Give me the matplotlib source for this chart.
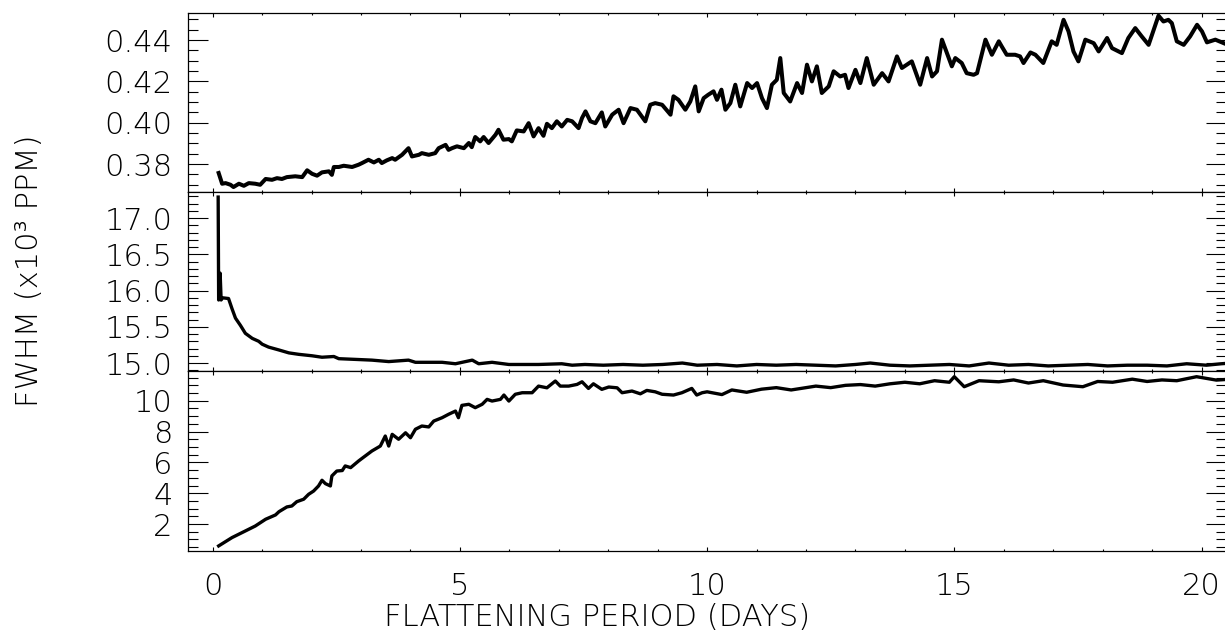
import numpy as np
import matplotlib
matplotlib.use("Agg")
import matplotlib.pyplot as plt
from matplotlib.ticker import MultipleLocator, FormatStrFormatter

# Datos (periodo de aplanado en dias)
top_x = [0.12, 0.19, 0.26, 0.36, 0.42, 0.53, 0.63, 0.73, 0.86, 0.96, 1.07, 1.20, 1.30, 1.40,
         1.50, 1.67, 1.81, 1.91, 2.01, 2.11, 2.21, 2.35, 2.41, 2.45, 2.55, 2.65, 2.82, 2.95,
         3.02, 3.15, 3.26, 3.36, 3.42, 3.52, 3.63, 3.69, 3.83, 3.96, 4.03, 4.17, 4.23, 4.37,
         4.50, 4.57, 4.71, 4.77, 4.84, 4.94, 5.08, 5.18, 5.24, 5.31, 5.41, 5.48, 5.58, 5.72,
         5.78, 5.88, 5.99, 6.05, 6.15, 6.29, 6.39, 6.49, 6.59, 6.69, 6.76, 6.86, 6.96, 7.06,
         7.17, 7.27, 7.40, 7.47, 7.54, 7.64, 7.74, 7.87, 7.94, 8.08, 8.21, 8.31, 8.45, 8.58,
         8.75, 8.85, 8.95, 9.09, 9.26, 9.32, 9.42, 9.56, 9.66, 9.76, 9.83, 9.93, 10.02, 10.13,
         10.20, 10.29, 10.37, 10.47, 10.57, 10.67, 10.81, 10.91, 11.01, 11.11, 11.21, 11.31,
         11.41, 11.48, 11.55, 11.68, 11.82, 11.92, 12.02, 12.12, 12.22, 12.32, 12.46, 12.56,
         12.69, 12.79, 12.86, 13.00, 13.10, 13.23, 13.37, 13.54, 13.67, 13.84, 13.94, 14.04,
         14.14, 14.31, 14.45, 14.55, 14.65, 14.75, 14.85, 14.95, 15.02, 15.15, 15.25, 15.39,
         15.46, 15.63, 15.76, 15.90, 15.96, 16.06, 16.23, 16.33, 16.40, 16.54, 16.64, 16.80,
         16.97, 17.07, 17.21, 17.31, 17.41, 17.51, 17.65, 17.82, 17.92, 18.09, 18.19, 18.39,
         18.52, 18.66, 18.79, 18.93, 19.13, 19.23, 19.33, 19.40, 19.50, 19.64, 19.77, 19.91,
         20.01, 20.11, 20.28, 20.48, 20.60]
top_y = [0.3757, 0.3705, 0.3708, 0.3700, 0.3689, 0.3705, 0.3695, 0.3708, 0.3705, 0.3700,
         0.3728, 0.3724, 0.3732, 0.3728, 0.3737, 0.3741, 0.3737, 0.3770, 0.3753, 0.3744,
         0.3760, 0.3765, 0.3748, 0.3786, 0.3786, 0.3792, 0.3786, 0.3797, 0.3805, 0.3821,
         0.3808, 0.3821, 0.3805, 0.3818, 0.3829, 0.3821, 0.3845, 0.3877, 0.3837, 0.3845,
         0.3853, 0.3845, 0.3853, 0.3877, 0.3893, 0.3869, 0.3877, 0.3886, 0.3877, 0.3902,
         0.3882, 0.3931, 0.3910, 0.3931, 0.3902, 0.3942, 0.3966, 0.3918, 0.3921, 0.3910,
         0.3963, 0.3958, 0.3998, 0.3934, 0.3974, 0.3937, 0.3995, 0.3974, 0.4007, 0.3982,
         0.4014, 0.4007, 0.3974, 0.4023, 0.4055, 0.4007, 0.3998, 0.4050, 0.3982, 0.4039,
         0.4063, 0.3998, 0.4071, 0.4063, 0.4007, 0.4087, 0.4095, 0.4087, 0.4039, 0.4128,
         0.4111, 0.4063, 0.4103, 0.4176, 0.4055, 0.4119, 0.4135, 0.4152, 0.4111, 0.4160,
         0.4063, 0.4095, 0.4184, 0.4079, 0.4192, 0.4168, 0.4192, 0.4119, 0.4071, 0.4184,
         0.4208, 0.4313, 0.4144, 0.4103, 0.4192, 0.4144, 0.4281, 0.4200, 0.4273, 0.4144,
         0.4176, 0.4249, 0.4224, 0.4232, 0.4168, 0.4256, 0.4192, 0.4313, 0.4184, 0.4240,
         0.4200, 0.4321, 0.4265, 0.4281, 0.4297, 0.4184, 0.4313, 0.4224, 0.4249, 0.4402,
         0.4337, 0.4273, 0.4313, 0.4289, 0.4240, 0.4232, 0.4240, 0.4402, 0.4329, 0.4394,
         0.4369, 0.4329, 0.4329, 0.4321, 0.4289, 0.4340, 0.4329, 0.4289, 0.4394, 0.4377,
         0.4498, 0.4442, 0.4345, 0.4297, 0.4402, 0.4385, 0.4345, 0.4410, 0.4361, 0.4337,
         0.4410, 0.4458, 0.4418, 0.4377, 0.4518, 0.4490, 0.4498, 0.4482, 0.4394, 0.4377,
         0.4418, 0.4474, 0.4442, 0.4389, 0.4402, 0.4382, 0.4380]

mid_x = [0.11, 0.12, 0.15, 0.17, 0.20, 0.32, 0.39, 0.46, 0.56, 0.66, 0.80, 0.93, 1.00, 1.13,
         1.34, 1.54, 1.74, 2.01, 2.21, 2.45, 2.55, 2.89, 3.22, 3.56, 3.96, 4.10, 4.23, 4.64,
         4.91, 5.25, 5.38, 5.65, 5.99, 6.59, 7.06, 7.27, 7.53, 7.90, 8.30, 8.70, 9.10, 9.50,
         9.80, 10.20, 10.60, 11.00, 11.40, 11.80, 12.20, 12.60, 13.00, 13.30, 13.70, 14.10,
         14.50, 14.90, 15.30, 15.70, 16.10, 16.50, 16.90, 17.30, 17.70, 18.10, 18.50, 18.90,
         19.30, 19.70, 20.10, 20.40, 20.60]
mid_y = [17.29, 15.87, 16.24, 15.87, 15.90, 15.89, 15.75, 15.62, 15.52, 15.41, 15.34, 15.30,
         15.26, 15.22, 15.18, 15.14, 15.12, 15.10, 15.08, 15.09, 15.06, 15.05, 15.04, 15.02,
         15.04, 15.01, 15.01, 15.01, 14.99, 15.04, 14.99, 15.01, 14.98, 14.98, 14.99, 14.97,
         14.98, 14.97, 14.98, 14.97, 14.98, 15.00, 14.97, 14.98, 14.96, 14.98, 14.97, 14.98,
         14.97, 14.96, 14.98, 15.00, 14.97, 14.96, 14.97, 14.98, 14.96, 15.00, 14.97, 14.98,
         14.96, 14.97, 14.98, 14.96, 14.97, 14.97, 14.96, 14.99, 14.97, 14.99, 15.00]

bot_x = [0.12, 0.39, 0.66, 0.86, 1.07, 1.27, 1.34, 1.50, 1.60, 1.70, 1.84, 1.94, 2.04, 2.14,
         2.21, 2.28, 2.38, 2.41, 2.51, 2.62, 2.68, 2.79, 2.95, 3.02, 3.22, 3.39, 3.49, 3.56,
         3.63, 3.76, 3.90, 4.00, 4.10, 4.23, 4.37, 4.47, 4.64, 4.77, 4.91, 4.97, 5.04, 5.18,
         5.31, 5.45, 5.55, 5.65, 5.82, 5.89, 5.99, 6.12, 6.26, 6.46, 6.59, 6.76, 6.93, 7.03,
         7.20, 7.37, 7.47, 7.60, 7.70, 7.87, 8.01, 8.18, 8.28, 8.48, 8.65, 8.78, 8.95, 9.09,
         9.32, 9.49, 9.69, 9.79, 9.90, 10.00, 10.30, 10.50, 10.80, 11.10, 11.40, 11.70, 11.90,
         12.20, 12.50, 12.80, 13.10, 13.40, 13.70, 14.00, 14.30, 14.60, 14.90, 15.00, 15.20,
         15.50, 15.90, 16.20, 16.50, 16.80, 17.20, 17.60, 17.90, 18.20, 18.60, 18.90, 19.20,
         19.50, 19.90, 20.30, 20.60]
bot_y = [0.58, 1.12, 1.55, 1.87, 2.31, 2.59, 2.80, 3.11, 3.17, 3.45, 3.61, 3.93, 4.14, 4.47,
         4.84, 4.62, 4.47, 5.12, 5.44, 5.47, 5.77, 5.66, 6.09, 6.26, 6.74, 7.06, 7.71, 7.06,
         7.82, 7.50, 7.92, 7.60, 8.15, 8.36, 8.30, 8.68, 8.90, 9.12, 9.33, 8.90, 9.70, 9.77,
         9.55, 9.77, 10.09, 9.98, 10.09, 10.37, 9.98, 10.42, 10.52, 10.52, 10.95, 10.84, 11.28,
         10.95, 10.95, 11.06, 11.23, 10.80, 11.10, 10.74, 10.89, 10.84, 10.52, 10.63, 10.45,
         10.67, 10.58, 10.42, 10.37, 10.52, 10.80, 10.37, 10.52, 10.58, 10.40, 10.70, 10.55,
         10.75, 10.85, 10.70, 10.80, 10.95, 10.85, 11.00, 11.05, 10.95, 11.10, 11.20, 11.10,
         11.30, 11.20, 11.56, 10.91, 11.30, 11.23, 11.35, 11.15, 11.30, 11.02, 10.91, 11.25,
         11.20, 11.40, 11.25, 11.35, 11.30, 11.56, 11.34, 11.40]

# Estilo general (letra fina, parecida a la de IDL)
plt.rcParams['font.family'] = ['DejaVu Sans']
plt.rcParams['font.weight'] = 'light'
FS = 22

fig = plt.figure(figsize=(12.25, 6.38), dpi=100)
left, width = 188 / 1225, 1.001 - 188 / 1225
ax_top = fig.add_axes([left, 1 - 192 / 638, width, 179 / 638])
ax_mid = fig.add_axes([left, 1 - 371 / 638, width, 179 / 638], sharex=ax_top)
ax_bot = fig.add_axes([left, 1 - 551 / 638, width, 180 / 638], sharex=ax_top)

ax_top.plot(top_x, top_y, color='black', lw=2.9)
ax_mid.plot(mid_x, mid_y, color='black', lw=2.4)
ax_bot.plot(bot_x, bot_y, color='black', lw=2.4)

ax_top.set_ylim(0.3665, 0.4531)
ax_mid.set_ylim(14.89, 17.36)
ax_bot.set_ylim(0.25, 11.93)
ax_bot.set_xlim(-0.5, 20.5)

ax_top.yaxis.set_major_locator(MultipleLocator(0.02))
ax_top.yaxis.set_minor_locator(MultipleLocator(0.005))
ax_top.yaxis.set_major_formatter(FormatStrFormatter('%.2f'))
ax_mid.yaxis.set_major_locator(MultipleLocator(0.5))
ax_mid.yaxis.set_minor_locator(MultipleLocator(0.1))
ax_mid.yaxis.set_major_formatter(FormatStrFormatter('%.1f'))
ax_bot.yaxis.set_major_locator(MultipleLocator(2))
ax_bot.yaxis.set_minor_locator(MultipleLocator(0.5))
ax_bot.xaxis.set_major_locator(MultipleLocator(5))
ax_bot.xaxis.set_minor_locator(MultipleLocator(1))

for ax in (ax_top, ax_mid, ax_bot):
    for s in ax.spines.values():
        s.set_linewidth(0.9)
    ax.tick_params(axis='y', which='major', direction='in', length=14.4, width=0.8,
                   left=True, right=True, labelsize=FS, pad=11)
    ax.tick_params(axis='y', which='minor', direction='in', length=7.2, width=0.8,
                   left=True, right=True)
    ax.tick_params(axis='x', which='major', direction='in', length=3, width=0.8,
                   top=True, bottom=True, labelsize=FS, pad=15)
    ax.tick_params(axis='x', which='minor', direction='in', length=1.5, width=0.8,
                   top=True, bottom=True)
    if ax is not ax_bot:
        ax.tick_params(axis='x', labelbottom=False)

# Titulos de los ejes
fig.text(30 / 1225, 1 - 271 / 638, 'FWHM (x10³ PPM)', rotation=90,
         ha='center', va='center', fontsize=FS)
fig.text(597 / 1225, 1 - 618 / 638, 'FLATTENING PERIOD (DAYS)',
         ha='center', va='center', fontsize=FS)

fig.savefig('out.png', dpi=100)
